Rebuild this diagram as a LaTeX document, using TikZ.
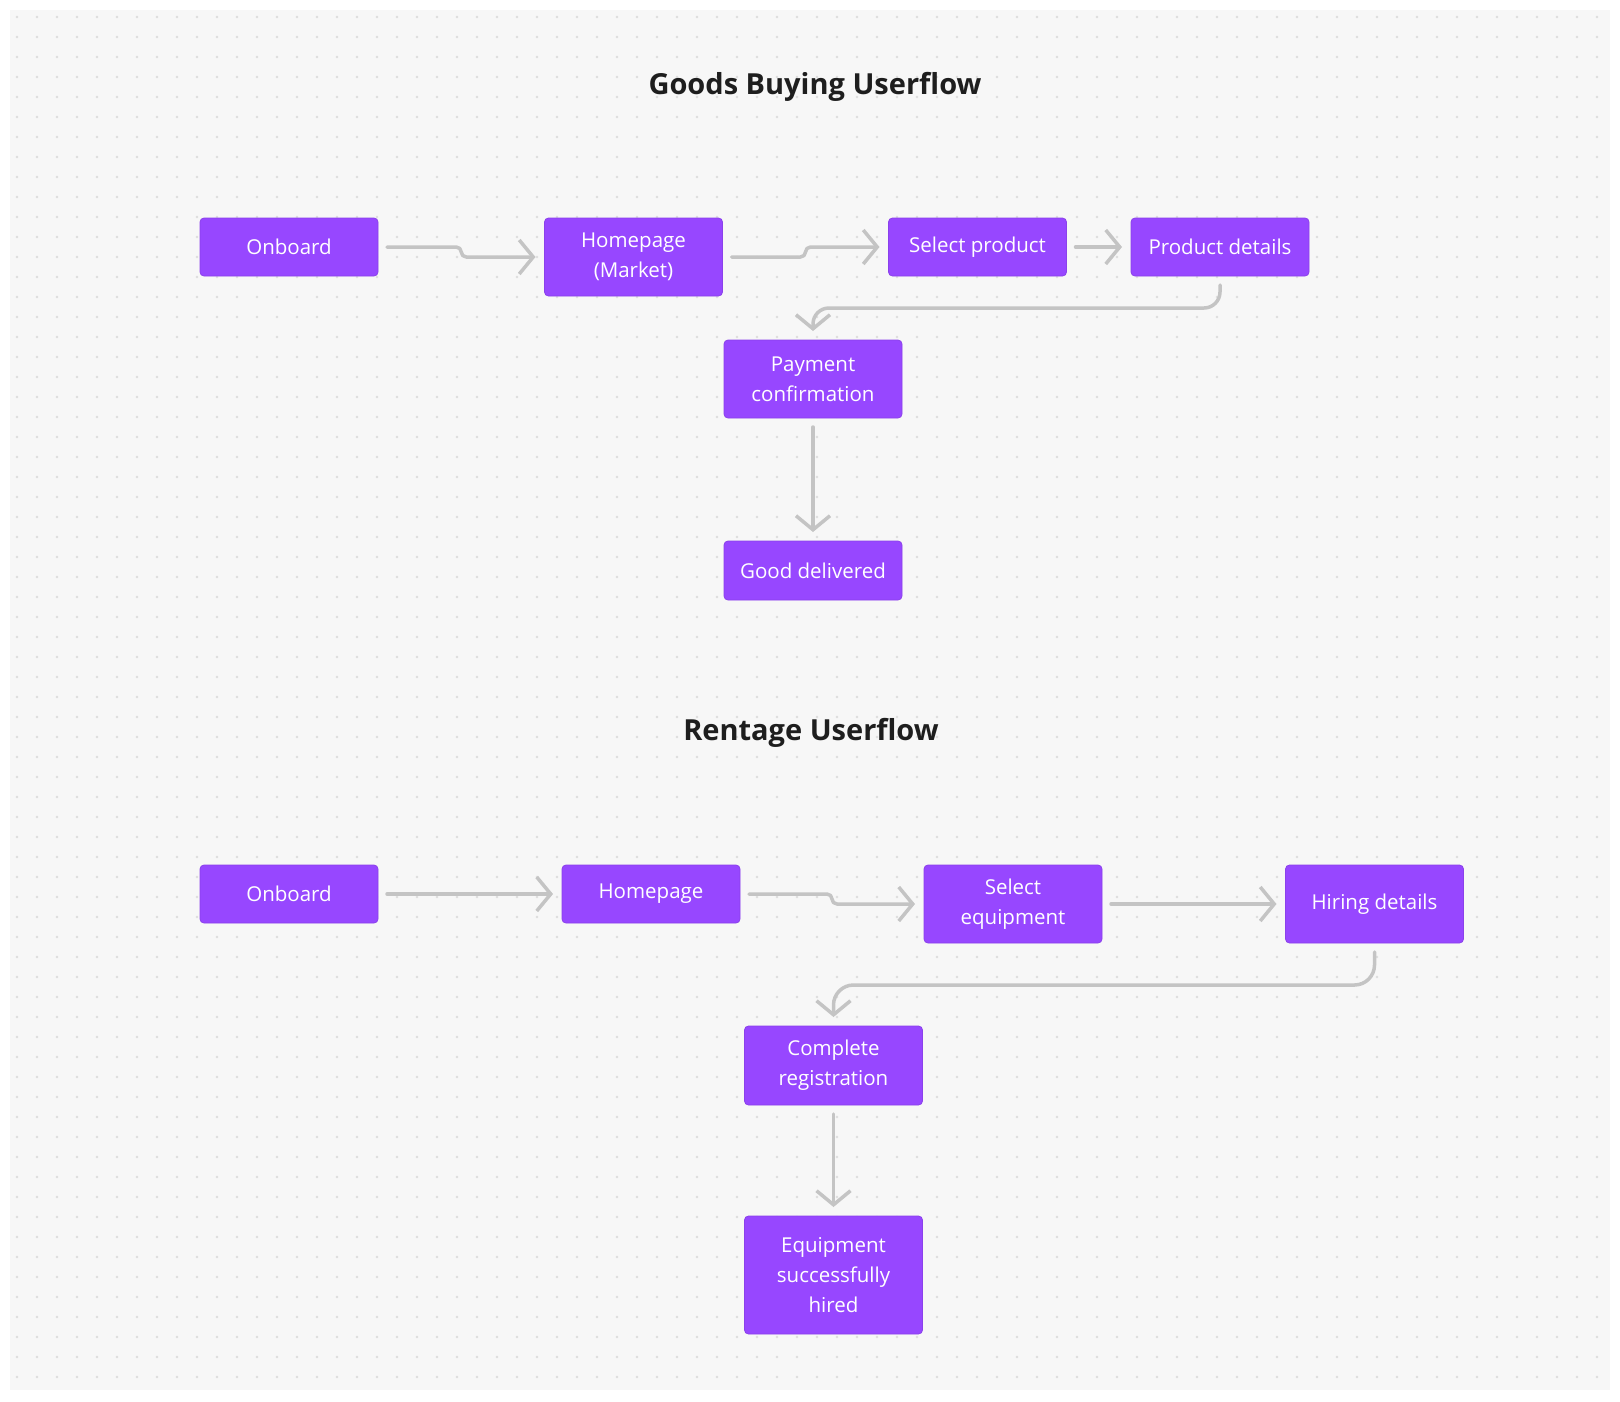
\documentclass[tikz,border=0pt]{standalone}
\usepackage{fontspec}
\setmainfont{Open Sans}
\usetikzlibrary{arrows.meta,calc}
\definecolor{bgpanel}{HTML}{F7F7F7}
\definecolor{dotc}{HTML}{DDDDDD}
\definecolor{boxfill}{HTML}{9747FF}
\definecolor{linec}{HTML}{C4C4C4}
\definecolor{titlec}{HTML}{1E1E1E}
\begin{document}
\begin{tikzpicture}[x=1pt,y=-1pt,
 box/.style={fill=boxfill, draw=boxfill!92!black, line width=0.8pt, rounded corners=4pt,
   minimum width=178pt, inner sep=0pt, outer sep=9pt, text=white, align=center,
   font=\fontsize{20.5}{30}\selectfont},
 conn/.style={draw=linec, line width=3.5pt, -{Straight Barb[length=14pt,width=34pt]},
   line cap=round, line join=round},
 title/.style={font=\fontsize{29}{34}\selectfont\bfseries, text=titlec}]
\useasboundingbox (0,0) rectangle (1620,1401);
\fill[white] (0,0) rectangle (1620,1401);
\fill[bgpanel] (10,10) rectangle (1610,1390);
\foreach \i in {0,...,79}{\foreach \j in {0,...,68}{\fill[dotc] (17+20*\i,17+20*\j) circle (1.4pt);}}
% titles
\node[title] (t1) at (815,87) {Goods Buying Userflow};
\node[title] (t2) at (811,733) {Rentage Userflow};
% goods buying
\node[box, minimum height=58pt] (on1) at (289,247) {Onboard};
\node[box, minimum height=78pt] (hm1) at (633.5,257) {Homepage\\(Market)};
\node[box, minimum height=58pt] (sp) at (977.5,247) {Select product};
\node[box, minimum height=58pt] (pd) at (1220,247) {Product details};
\node[box, minimum height=78pt] (pay) at (813,379) {Payment\\confirmation};
\node[box, minimum height=59pt] (gd) at (813,570.5) {Good delivered};
% rentage
\node[box, minimum height=58pt] (on2) at (289,894) {Onboard};
\node[box, minimum height=58pt] (hm2) at (651,894) {Homepage};
\node[box, minimum height=78pt] (se) at (1013,904) {Select\\equipment};
\node[box, minimum height=78pt] (hd) at (1374.5,904) {Hiring details};
\node[box, minimum height=79pt] (cr) at (833.5,1065.5) {Complete\\registration};
\node[box, minimum height=118pt] (eq) at (833.5,1275) {Equipment\\successfully\\hired};
% connectors top
\coordinate (m1) at ($(on1.east)!0.5!(hm1.west)$);
\draw[conn, rounded corners=5pt] (on1.east) -- (m1 |- on1.east) -- (m1 |- hm1.west) -- (hm1.west);
\coordinate (m2) at ($(hm1.east)!0.5!(sp.west)$);
\draw[conn, rounded corners=5pt] (hm1.east) -- (m2 |- hm1.east) -- (m2 |- sp.west) -- (sp.west);
\draw[conn] (sp.east) -- (pd.west);
\coordinate (h1) at (0,308);
\draw[conn, rounded corners=16pt] (pd.south) -- (pd.south |- h1) -- (pay.north |- h1) -- (pay.north);
\draw[conn] (pay.south) -- (gd.north);
% connectors bottom
\draw[conn] (on2.east) -- (hm2.west);
\coordinate (m3) at ($(hm2.east)!0.5!(se.west)$);
\draw[conn, rounded corners=5pt] (hm2.east) -- (m3 |- hm2.east) -- (m3 |- se.west) -- (se.west);
\draw[conn] (se.east) -- (hd.west);
\coordinate (h2) at (0,985);
\draw[conn, rounded corners=20pt] (hd.south) -- (hd.south |- h2) -- (cr.north |- h2) -- (cr.north);
\draw[conn] (cr.south) -- (eq.north);
\end{tikzpicture}
\end{document}
